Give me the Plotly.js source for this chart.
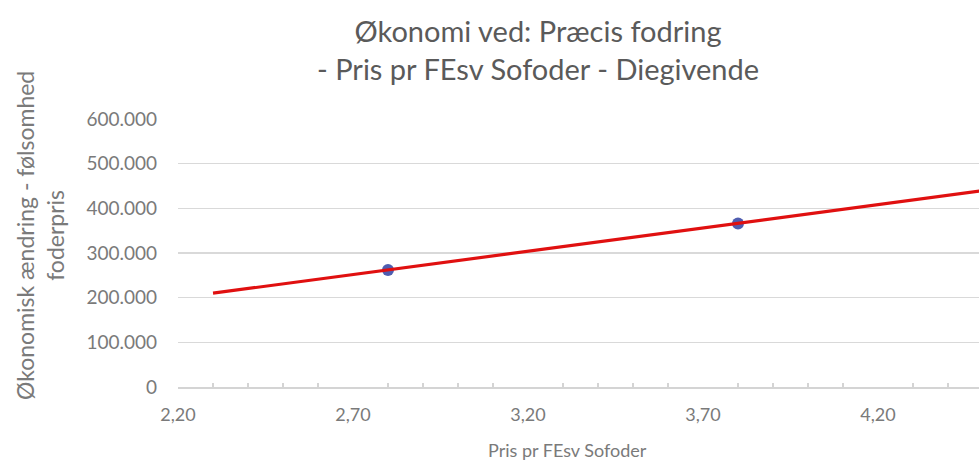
<!DOCTYPE html>
<html><head><meta charset="utf-8">
<script src="https://cdn.plot.ly/plotly-3.0.1.min.js"></script>
<style>html,body{margin:0;padding:0;background:#fff}#c{width:979px;height:462px}</style>
</head><body><div id="c"></div>
<script>
// Data
const pointX = [2.80, 3.80];
const pointY = [262000, 366000];
const lineX = [2.30, 4.60];
const lineY = [210000, 450000];
const titleText = "Økonomi ved: Præcis fodring<br>- Pris pr FEsv Sofoder - Diegivende";
const xTitle = "Pris pr FEsv Sofoder";
const yTitle = "Økonomisk ændring - følsomhed<br>foderpris";

const FONT = "Lato, 'Open Sans', sans-serif";
const GRAY = "#7a7a7a";

const traces = [
  {x: pointX, y: pointY, type: "scatter", mode: "markers",
   marker: {color: "#4f5db0", size: 12}, cliponaxis: false, hoverinfo: "skip"},
  {x: lineX, y: lineY, type: "scatter", mode: "lines",
   line: {color: "#e01010", width: 3.2}, hoverinfo: "skip"}
];

const layout = {
  width: 979, height: 462,
  margin: {l: 178, r: 0, t: 119, b: 75},
  paper_bgcolor: "#fff", plot_bgcolor: "#fff",
  showlegend: false,
  separators: ",.",
  font: {family: FONT, color: GRAY, size: 17},
  annotations: [
    {text: titleText, xref: "paper", yref: "paper", x: (538-178)/801, y: (387-49)/268,
     xanchor: "center", yanchor: "middle", showarrow: false,
     font: {family: FONT, size: 29, color: "#5a5a5a"}},
    {text: xTitle, xref: "paper", yref: "paper", x: (567-178)/801, y: (387-450)/268,
     xanchor: "center", yanchor: "middle", showarrow: false,
     font: {family: FONT, size: 18, color: GRAY}},
    {text: yTitle, xref: "paper", yref: "paper", x: (40-178)/801, y: (387-236)/268,
     xanchor: "center", yanchor: "middle", showarrow: false, textangle: -90,
     font: {family: FONT, size: 23, color: GRAY}}
  ],
  xaxis: {range: [2.2, 2.2 + 801/350], tick0: 2.2, dtick: 0.5, tickformat: ".2f",
          showgrid: false, zeroline: false, showline: true, linecolor: "#d4d4d4", linewidth: 1.5,
          ticks: "", ticklabelstandoff: 11,
          minor: {tick0: 2.2, dtick: 0.1, ticks: "inside", ticklen: 4, tickcolor: "#d4d4d4", tickwidth: 1.5, showgrid: false},
          tickfont: {family: FONT, size: 18, color: GRAY}, fixedrange: true},
  yaxis: {range: [0, 600000], dtick: 100000, tickformat: ",d",
          showgrid: true, gridcolor: "#d9d9d9", gridwidth: 1.5, zeroline: false, showline: false,
          ticks: "", ticklabelstandoff: 20,
          tickfont: {family: FONT, size: 19, color: GRAY}, fixedrange: true}
};
Plotly.newPlot("c", traces, layout, {displayModeBar: false, staticPlot: true});
</script></body></html>
